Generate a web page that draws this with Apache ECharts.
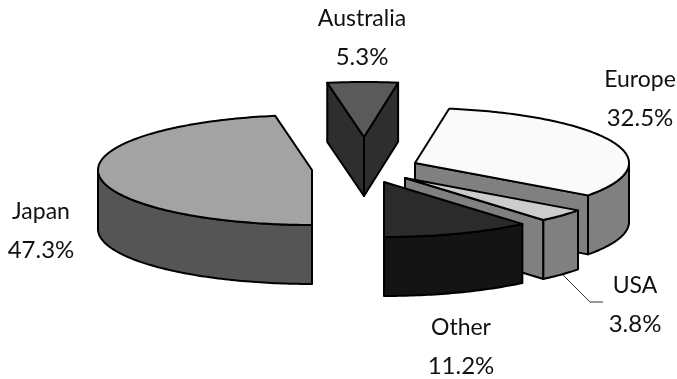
<!DOCTYPE html>
<html>
<head>
<meta charset="utf-8">
<style>html,body{margin:0;padding:0;background:#fff}#chart{width:677px;height:379px}</style>
<script src="https://cdn.jsdelivr.net/npm/echarts@6/dist/echarts.min.js"></script>
</head>
<body>
<div id="chart"></div>
<script>
// Shares in percent, listed clockwise-on-screen from the front of the pie.
const categories = ['Other', 'USA', 'Europe', 'Australia', 'Japan'];
const shares = [11.2, 3.8, 32.5, 5.3, 47.3];

// Pie geometry: ellipse radii, extrusion depth, and the exploded apex of each wedge.
const RX = 214, RY = 55, DEPTH = 59;
const layout = {
  Other:     { apex: [384, 182], top: '#2b2b2b', side: '#141414', face: '#2b2b2b', label: [461, 347] },
  USA:       { apex: [405, 178], top: '#cccccc', side: '#808080', face: '#808080', label: [635, 305] },
  Europe:    { apex: [415, 163], top: '#fafafa', side: '#808080', face: '#808080', label: [640, 99] },
  Australia: { apex: [364, 137], top: '#5a5a5a', side: '#2e2e2e', face: '#2e2e2e', label: [362, 38] },
  Japan:     { apex: [312, 170], top: '#a3a3a3', side: '#555555', face: '#555555', label: [41, 231] }
};
const paintOrder = ['Australia', 'Japan', 'Europe', 'USA', 'Other'];
const STROKE = { stroke: '#000', lineWidth: 2, lineJoin: 'round' };

const total = shares.reduce((a, b) => a + b, 0);
let running = 0;
const rows = categories.map((name, i) => {
  const row = [running, shares[i], i];
  running += shares[i];
  return row;
});

const rad = d => d * Math.PI / 180;
const onRim = (apex, t) => [apex[0] + RX * Math.sin(rad(t)), apex[1] + RY * Math.cos(rad(t))];
const sampleArc = (apex, from, to) => {
  const pts = [];
  const steps = Math.max(2, Math.ceil(Math.abs(to - from)));
  for (let k = 0; k <= steps; k++) pts.push(onRim(apex, from + (to - from) * k / steps));
  return pts;
};
const drop = pts => pts.map(p => [p[0], p[1] + DEPTH]);

function renderSlice(params, api) {
  const t1 = api.value(0) / total * 360;
  const t2 = t1 + api.value(1) / total * 360;
  const name = categories[api.value(2)];
  const cfg = layout[name];
  const base = paintOrder.indexOf(name) * 10;
  const apex = cfg.apex;
  const children = [];
  const poly = (points, fill, z) => children.push({
    type: 'polygon', z2: base + z, shape: { points },
    style: Object.assign({ fill }, STROKE)
  });
  // A cut face shows only when its outward normal leans toward the viewer.
  const cutFace = t => {
    const p = onRim(apex, t);
    poly([apex, p, [p[0], p[1] + DEPTH], [apex[0], apex[1] + DEPTH]], cfg.face, 1);
  };
  if (Math.sin(rad(t1)) > 0.01) cutFace(t1);
  if (Math.sin(rad(t2)) < -0.01) cutFace(t2);
  // The outer wall is only seen along the front half of the rim.
  [[-90, 90], [270, 450]].forEach(([lo, hi]) => {
    const a = Math.max(t1, lo), b = Math.min(t2, hi);
    if (b > a) {
      const rim = sampleArc(apex, a, b);
      poly(rim.concat(drop(rim).reverse()), cfg.side, 2);
    }
  });
  poly([apex].concat(sampleArc(apex, t1, t2)), cfg.top, 3);
  children.push({
    type: 'text', z2: 100,
    style: {
      x: cfg.label[0], y: cfg.label[1],
      text: '{n|' + name + '}\n{v|' + api.value(1).toFixed(1) + '%}',
      align: 'center', verticalAlign: 'middle',
      rich: {
        n: { font: '23px Lato', fill: '#111', lineHeight: 38, align: 'center' },
        v: { font: '24px Lato', fill: '#111', lineHeight: 38, align: 'center' }
      }
    }
  });
  if (name === 'USA') {
    children.push({
      type: 'polyline', z2: 1,
      shape: { points: [[563, 275], [590, 302], [603, 302]] },
      style: { stroke: '#333', lineWidth: 1, fill: null }
    });
  }
  return { type: 'group', children };
}

const chart = echarts.init(document.getElementById('chart'), null, { renderer: 'canvas' });
chart.setOption({
  animation: false,
  backgroundColor: '#fff',
  series: [{
    type: 'custom',
    coordinateSystem: 'none',
    silent: true,
    renderItem: renderSlice,
    data: rows
  }]
});
</script>
</body>
</html>
